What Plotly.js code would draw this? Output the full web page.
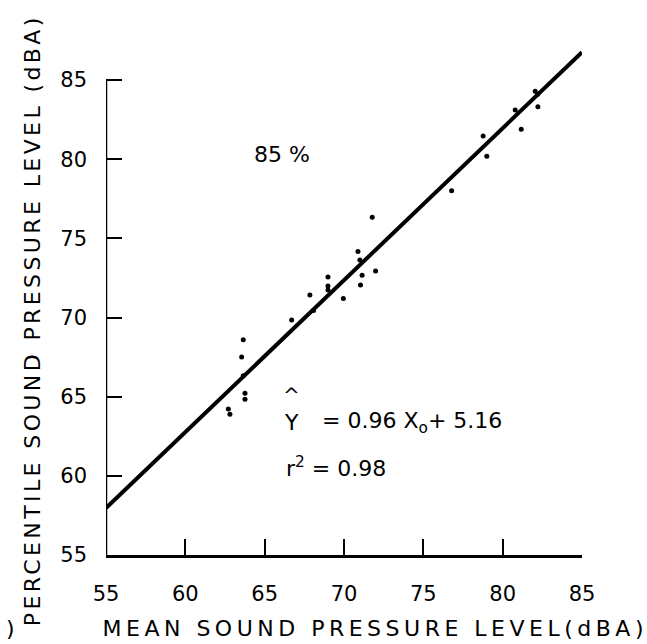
<!DOCTYPE html>
<html>
<head>
<meta charset="utf-8">
<script src="https://cdn.plot.ly/plotly-3.0.1.min.js"></script>
<style>
html,body{margin:0;padding:0;background:#fff;}
#chart{width:647px;height:644px;}
</style>
</head>
<body>
<div id="chart"></div>
<script>
// Observed data points (mean SPL vs 85 percentile SPL, dBA)
const meanSPL = [62.71, 62.81, 63.55, 63.65, 63.65, 63.76, 63.76, 66.70, 67.85, 68.08,
                 68.99, 68.99, 68.99, 69.96, 70.88, 71.00, 71.14, 71.04, 71.99, 71.78,
                 76.78, 78.77, 79.00, 80.79, 81.17, 82.05, 82.20, 82.22];
const pctSPL  = [64.22, 63.89, 67.50, 68.60, 66.33, 65.21, 64.84, 69.85, 71.43, 70.45,
                 72.56, 71.99, 71.74, 71.21, 74.17, 73.64, 72.67, 72.06, 72.94, 76.33,
                 78.01, 81.47, 80.19, 83.11, 81.89, 84.30, 84.10, 83.32];
// Regression line end points: Y = 0.96 X0 + 5.16
const fitX = [55, 85];
const fitY = [57.96, 86.76];
const tickVals = [55, 60, 65, 70, 75, 80, 85];
const tickText = ['55', '60', '65', '70', '75', '80', '85'];
const xTitle = 'MEAN SOUND PRESSURE LEVEL(dBA)';
const yTitle = 'PERCENTILE SOUND PRESSURE LEVEL (dBA)';

const FONT = 'DejaVu Sans, Arial, sans-serif';

const traces = [
  {x: fitX, y: fitY, type: 'scatter', mode: 'lines',
   line: {color: '#000', width: 4}, hoverinfo: 'skip', showlegend: false},
  {x: meanSPL, y: pctSPL, type: 'scatter', mode: 'markers',
   marker: {color: '#000', size: 5}, showlegend: false}
];

const layout = {
  width: 647, height: 644,
  margin: {l: 106, r: 65, t: 50, b: 89},
  paper_bgcolor: '#fff', plot_bgcolor: '#fff',
  font: {family: FONT, color: '#000', size: 21},
  showlegend: false,
  xaxis: {
    range: [55, 85], tickvals: tickVals, ticktext: tickText,
    ticks: 'inside', ticklen: 16, tickwidth: 2, tickcolor: '#000',
    showline: true, linecolor: '#000', linewidth: 2.5,
    showgrid: false, zeroline: false, ticklabelstandoff: 18,
    tickfont: {family: FONT, size: 21, color: '#000'}
  },
  yaxis: {
    range: [55, 86.9], tickvals: tickVals, ticktext: tickText,
    ticks: 'inside', ticklen: 16, tickwidth: 2, tickcolor: '#000',
    showline: false, showgrid: false, zeroline: false, ticklabelstandoff: 18,
    tickfont: {family: FONT, size: 21, color: '#000'}
  },
  shapes: [
    {type: 'line', xref: 'x', yref: 'y', x0: 55, x1: 55, y0: 55, y1: 85,
     line: {color: '#000', width: 2.5}}
  ],
  annotations: [
    {text: '85 %', x: 66.1, y: 80.27, xref: 'x', yref: 'y', showarrow: false,
     xanchor: 'center', yanchor: 'middle',
     font: {family: FONT, size: 22, color: '#000'}},
    {text: '^', x: 66.72, y: 65.1, xref: 'x', yref: 'y', showarrow: false,
     xanchor: 'center', yanchor: 'middle',
     font: {family: FONT, size: 20, color: '#000'}},
    {text: 'Y', x: 66.72, y: 63.4, xref: 'x', yref: 'y', showarrow: false,
     xanchor: 'center', yanchor: 'middle',
     font: {family: FONT, size: 22, color: '#000'}},
    {text: '= 0.96 X<sub>o</sub>+ 5.16', x: 68.5, y: 63.4, xref: 'x', yref: 'y',
     xanchor: 'left', yanchor: 'middle', showarrow: false,
     font: {family: FONT, size: 22, color: '#000'}},
    {text: 'r<sup>2</sup> = 0.98', x: 66.2, y: 60.56, xref: 'x', yref: 'y',
     xanchor: 'left', yanchor: 'middle', showarrow: false,
     font: {family: FONT, size: 22, color: '#000'}},
    {text: xTitle, x: 0.565, y: -0.145,
     xref: 'paper', yref: 'paper', showarrow: false,
     xanchor: 'center', yanchor: 'middle',
     font: {family: FONT, size: 22, color: '#000'}},
    {text: yTitle, x: -0.155, y: 0.465,
     xref: 'paper', yref: 'paper', showarrow: false, textangle: -90,
     xanchor: 'center', yanchor: 'middle',
     font: {family: FONT, size: 22, color: '#000'}},
    {text: ')', x: -0.215, y: -0.145, xref: 'paper', yref: 'paper', showarrow: false,
     xanchor: 'left', yanchor: 'middle', font: {family: FONT, size: 22, color: '#000'}}
  ]
};

Plotly.newPlot('chart', traces, layout, {displayModeBar: false, staticPlot: true}).then(function () {
  document.querySelectorAll('text.annotation-text').forEach(function (t) {
    const s = t.textContent;
    if (s === xTitle) t.style.letterSpacing = '4.5px';
    else if (s === yTitle) t.style.letterSpacing = '3.4px';
  });
});
</script>
</body>
</html>
